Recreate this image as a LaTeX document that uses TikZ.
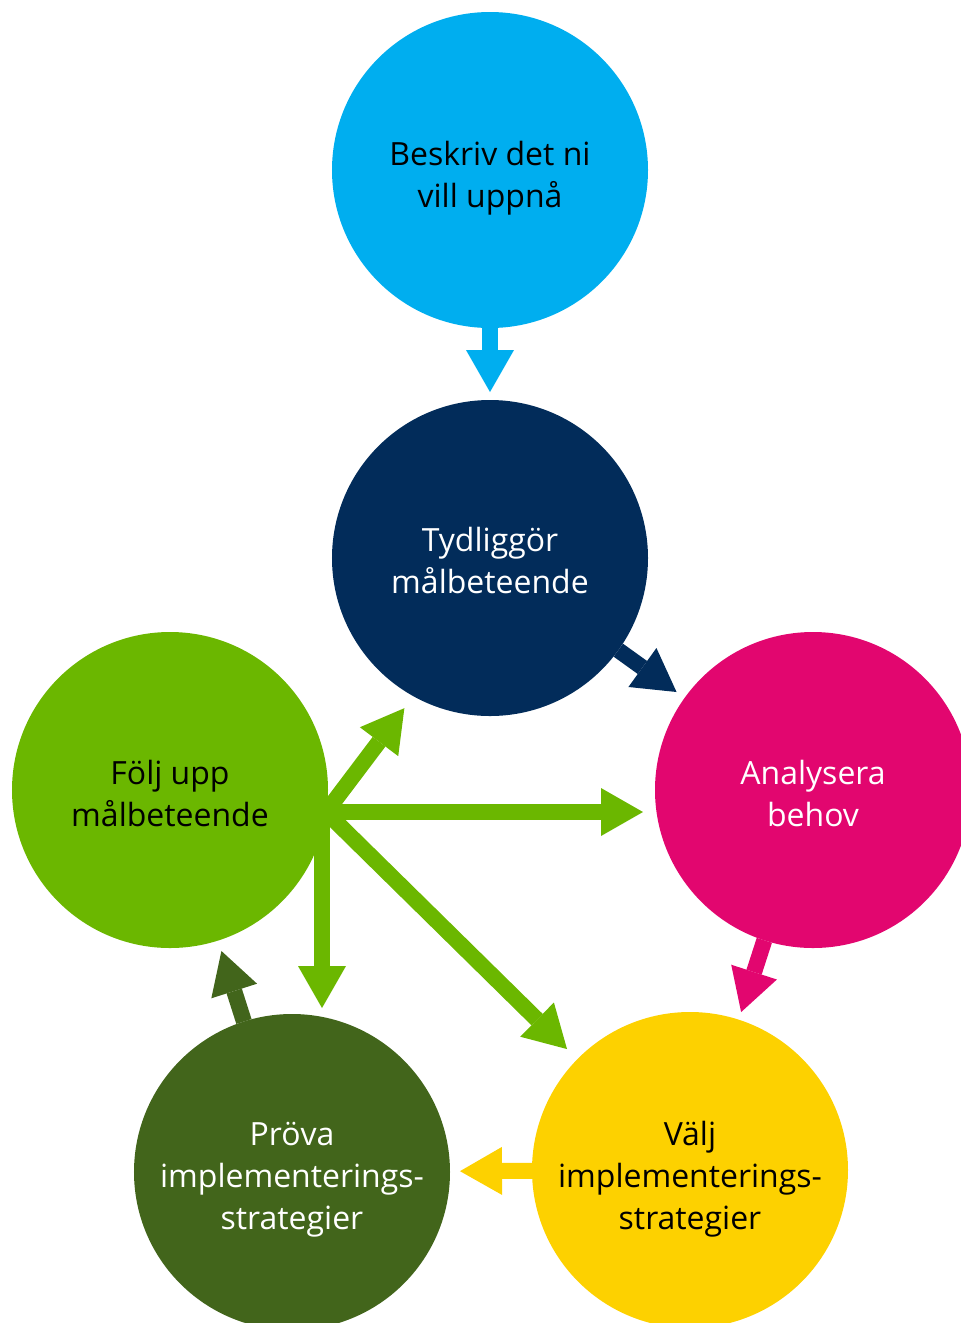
\documentclass[tikz,border=0pt]{standalone}
\usepackage{fontspec}
\setmainfont{Open Sans}
\usetikzlibrary{arrows.meta}
\definecolor{himmel}{HTML}{00AEEF}
\definecolor{marin}{HTML}{022C5A}
\definecolor{rosa}{HTML}{E2066F}
\definecolor{gul}{HTML}{FDD100}
\definecolor{morkgron}{HTML}{42651B}
\definecolor{gron}{HTML}{6BB700}
\tikzset{
  bubble/.style={circle, minimum size=63.2mm, inner sep=0pt, outer sep=0pt},
  label text/.style={anchor=center, align=center, font=\fontsize{18.2}{23.9}\selectfont},
  flow/.style={line width=3.2mm,
    -{Triangle[length=8.4mm,width=9.6mm,line width=0pt]}},
}
\begin{document}
\begin{tikzpicture}[x=0.2mm,y=-0.2mm]
\useasboundingbox (0,0) rectangle (961,1323);
\clip (0,0) rectangle (961,1323);
%
\node[bubble, fill=himmel] (beskriv) at (490,170) {};
\node[bubble, fill=marin] (tydlig) at (490,558) {};
\node[bubble, fill=rosa] (analys) at (813,790) {};
\node[bubble, fill=gul] (valj) at (690,1170) {};
\node[bubble, fill=morkgron] (prova) at (292,1172) {};
\node[bubble, fill=gron] (folj) at (170,790) {};
%
\node[label text, text=black] (beskrivtxt) at ([yshift=-1.6mm]beskriv.center) {Beskriv det ni\\vill uppnå};
\node[label text, text=white] (tydligtxt) at ([yshift=-0.5mm]tydlig.center) {Tydliggör\\målbeteende};
\node[label text, text=white] (analystxt) at ([yshift=-0.6mm]analys.center) {Analysera\\behov};
\node[label text, text=black] (valjtxt) at ([yshift=-1.8mm]valj.center) {Välj\\implementerings-\\strategier};
\node[label text, text=white] (provatxt) at ([yshift=-1.6mm]prova.center) {Pröva\\implementerings-\\strategier};
\node[label text, text=black] (foljtxt) at ([yshift=-0.6mm]folj.center) {Följ upp\\målbeteende};
%
\draw[flow, himmel, shorten >=1.6mm] (beskriv) -- (tydlig);
\draw[flow, marin, shorten >=2mm] (tydlig) -- (analys);
\draw[flow, rosa, shorten >=1.6mm] (analys) -- (valj);
\draw[flow, gul, shorten >=2mm] (valj) -- (prova);
\draw[flow, morkgron, shorten >=2.2mm] (prova) -- (folj);
%
\coordinate (hub) at (326,812);
\coordinate (hubdown) at (322,812);
\draw[flow, gron, shorten >=3mm] (hub) -- (tydlig.-119);
\draw[flow, gron, shorten >=2.4mm] (hub) -- (hub -| analys.west);
\draw[flow, gron, shorten >=2.9mm] (hub) -- (valj);
\draw[flow, gron, shorten >=1.2mm] (hubdown) -- (hubdown |- prova.north);
%
\end{tikzpicture}
\end{document}
